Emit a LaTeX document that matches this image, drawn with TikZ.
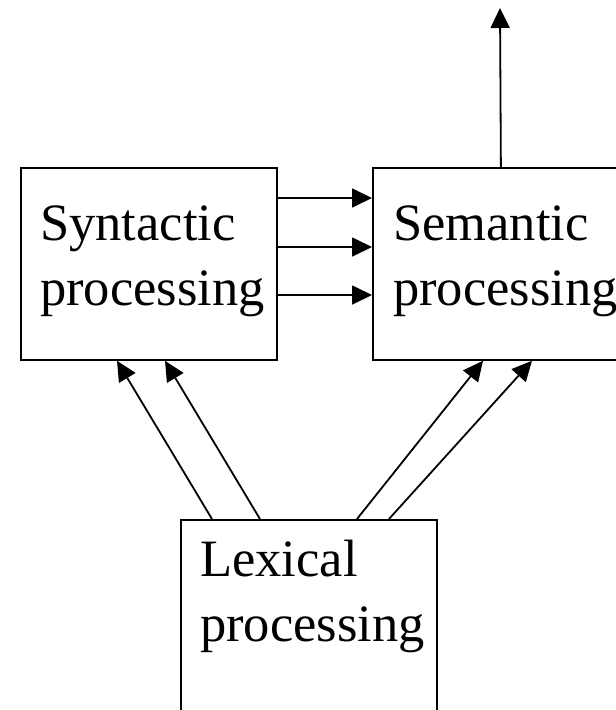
\documentclass[tikz,border=0pt]{standalone}
\usepackage{fontspec}
\setmainfont{Liberation Serif}
\usetikzlibrary{arrows.meta,calc}
\tikzset{
  procbox/.style={draw, line width=1.8pt, minimum width=256pt, minimum height=192pt,
    inner sep=0pt, anchor=north west},
  boxtext/.style={anchor=base west, inner sep=0pt, align=left,
    font=\fontsize{52.5}{65}\selectfont},
  flow/.style={line width=1.8pt, -{Triangle[length=20pt,width=19pt]}}
}
\begin{document}
\begin{tikzpicture}[x=1pt, y=-1pt]
  \useasboundingbox (0,0) rectangle (616,710);
  \clip (0,0) rectangle (616,710);
  % the three processing stages
  \node[procbox] (syn) at (20,167) {};
  \node[procbox] (sem) at (372,167) {};
  \node[procbox] (lex) at (180,519) {};
  % the base anchor sits on the last line of each label
  \node[boxtext] (syntxt) at ($(syn.north west)+(20,138)$) {Syntactic\\processing};
  \node[boxtext] (semtxt) at ($(sem.north west)+(21,138)$) {Semantic\\processing};
  \node[boxtext] (lextxt) at ($(lex.north west)+(20,122)$) {Lexical\\processing};
  % syntax feeds semantics
  \foreach \dy in {31,80,128}
    \draw[flow] ($(syn.north east)+(0,\dy)$) -- ($(sem.north west)+(0,\dy)$);
  % output of semantic processing
  \coordinate (out) at (500,8);
  \draw[flow] (sem.north) -- (out);
  % lexical processing feeds both stages
  \draw[flow] ($(lex.north west)+(32,0)$) -- ($(syn.south west)+(97,0)$);
  \draw[flow] ($(lex.north west)+(80,0)$) -- ($(syn.south west)+(145,0)$);
  \draw[flow] ($(lex.north west)+(177,0)$) -- ($(sem.south west)+(111,0)$);
  \draw[flow] ($(lex.north west)+(209,0)$) -- ($(sem.south west)+(160,0)$);
\end{tikzpicture}
\end{document}
